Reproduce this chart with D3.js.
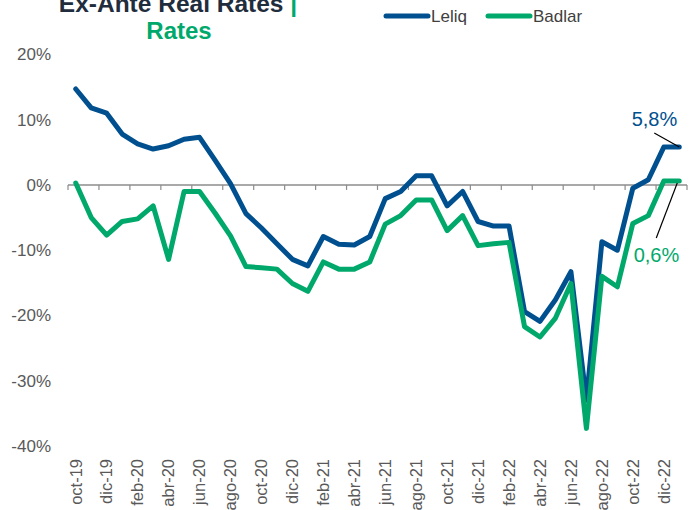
<!DOCTYPE html>
<html>
<head>
<meta charset="utf-8">
<script src="https://cdn.jsdelivr.net/npm/d3@7"></script>
<style>
  body { margin: 0; background: #fff; }
  svg { font-family: "Liberation Sans", Arial, sans-serif; }
</style>
</head>
<body>
<script>
var w = 693;
var h = 510;

// months oct-19 .. ene-23
var mesesNombres = ["ene","feb","mar","abr","may","jun","jul","ago","sep","oct","nov","dic"];
var months = [];
for (var k = 0; k < 40; k++) {
  var m = (9 + k) % 12;
  var yy = 19 + Math.floor((9 + k) / 12);
  months.push(mesesNombres[m] + "-" + yy);
}

var leliq = [14.7, 11.8, 11.0, 7.8, 6.3, 5.5, 6.0, 7.0, 7.3, 3.8,
             0.2, -4.4, -6.6, -9.0, -11.4, -12.4, -7.9, -9.1, -9.2, -7.9,
             -2.1, -1.0, 1.4, 1.4, -3.2, -1.0, -5.6, -6.3, -6.3, -19.4,
             -20.9, -17.6, -13.3, -33.0, -8.7, -10.0, -0.5, 0.8, 5.8, 5.8];

var badlar = [0.3, -5.0, -7.7, -5.6, -5.2, -3.2, -11.4, -1.0, -1.0, -4.3,
              -7.8, -12.5, -12.7, -12.9, -15.1, -16.3, -11.8, -12.9, -12.9, -11.8,
              -6.0, -4.7, -2.3, -2.3, -7.0, -4.7, -9.3, -9.0, -8.8, -21.7,
              -23.3, -20.4, -15.1, -37.3, -14.0, -15.6, -5.9, -4.7, 0.6, 0.6];

var yTicks = [20, 10, 0, -10, -20, -30, -40];

var colors = { leliq: "#00508F", badlar: "#00A96B" };

var svg = d3.select("body").append("svg")
  .attr("width", w)
  .attr("height", h);

var xScale = d3.scaleBand()
  .domain(months)
  .range([68, 687])
  .padding(0);

var yScale = d3.scaleLinear()
  .domain([-40, 20])
  .range([446, 54.4]);

var cx = function(i) { return xScale(months[i]) + xScale.bandwidth() / 2; };

// y labels
svg.selectAll(".ylab")
  .data(yTicks)
  .enter()
  .append("text")
  .attr("class", "ylab")
  .attr("x", 51)
  .attr("y", function(d) { return yScale(d); })
  .attr("dy", "0.35em")
  .attr("text-anchor", "end")
  .attr("font-size", 17)
  .attr("fill", "#595959")
  .text(function(d) { return d + "%"; });

// zero axis line with ticks every two months
var y0 = yScale(0);
svg.append("line")
  .attr("x1", 68).attr("x2", 687)
  .attr("y1", y0).attr("y2", y0)
  .attr("stroke", "#8c8c8c")
  .attr("stroke-width", 1.5);

var tickIdx = [];
for (var t = 0; t <= months.length; t += 2) tickIdx.push(t);
svg.selectAll(".xtick")
  .data(tickIdx)
  .enter()
  .append("line")
  .attr("class", "xtick")
  .attr("x1", function(d) { return d < months.length ? xScale(months[d]) : xScale.range()[1]; })
  .attr("x2", function(d) { return d < months.length ? xScale(months[d]) : xScale.range()[1]; })
  .attr("y1", y0).attr("y2", y0 + 5)
  .attr("stroke", "#8c8c8c")
  .attr("stroke-width", 1.2);

// x labels every two months
var labIdx = d3.range(0, months.length, 2);
svg.selectAll(".xlab")
  .data(labIdx)
  .enter()
  .append("text")
  .attr("class", "xlab")
  .attr("transform", function(d) { return "translate(" + cx(d) + ",459) rotate(-90)"; })
  .attr("dy", "0.35em")
  .attr("text-anchor", "end")
  .attr("font-size", 16.5)
  .attr("fill", "#595959")
  .text(function(d) { return months[d]; });

// lines
var line = d3.line()
  .x(function(d, i) { return cx(i); })
  .y(function(d) { return yScale(d); });

svg.append("path")
  .datum(leliq)
  .attr("d", line)
  .attr("fill", "none")
  .attr("stroke", colors.leliq)
  .attr("stroke-width", 5)
  .attr("stroke-linejoin", "round")
  .attr("stroke-linecap", "round");

svg.append("path")
  .datum(badlar)
  .attr("d", line)
  .attr("fill", "none")
  .attr("stroke", colors.badlar)
  .attr("stroke-width", 5)
  .attr("stroke-linejoin", "round")
  .attr("stroke-linecap", "round");

// end labels
var last = months.length - 1;
var lx = cx(last);
var lyL = yScale(leliq[last]);
var lyB = yScale(badlar[last]);

svg.append("line")
  .attr("x1", lx - 25).attr("y1", lyL - 14)
  .attr("x2", lx).attr("y2", lyL)
  .attr("stroke", "#000").attr("stroke-width", 1.2);
svg.append("text")
  .attr("x", lx - 2).attr("y", lyL - 21)
  .attr("text-anchor", "end")
  .attr("font-size", 20)
  .attr("fill", colors.leliq)
  .text("5,8%");

svg.append("line")
  .attr("x1", lx - 23).attr("y1", lyB + 57)
  .attr("x2", lx - 2).attr("y2", lyB + 2)
  .attr("stroke", "#000").attr("stroke-width", 1.2);
svg.append("text")
  .attr("x", lx).attr("y", lyB + 81)
  .attr("text-anchor", "end")
  .attr("font-size", 20)
  .attr("fill", colors.badlar)
  .text("0,6%");

// title (cut at top)
var title = svg.append("text")
  .attr("x", 178).attr("y", 12)
  .attr("text-anchor", "middle")
  .attr("font-size", 24.5)
  .attr("font-weight", "bold");
title.append("tspan").attr("fill", "#1F2D3D").text("Ex-Ante Real Rates ");
title.append("tspan").attr("fill", colors.badlar).text("|");
svg.append("text")
  .attr("x", 179).attr("y", 39)
  .attr("text-anchor", "middle")
  .attr("font-size", 24)
  .attr("font-weight", "bold")
  .attr("fill", colors.badlar)
  .text("Rates");

// legend
var legend = [{ name: "Leliq", color: colors.leliq, x: 386 },
              { name: "Badlar", color: colors.badlar, x: 488 }];
var lg = svg.selectAll(".lg")
  .data(legend)
  .enter()
  .append("g")
  .attr("class", "lg")
  .attr("transform", function(d) { return "translate(" + d.x + ",16)"; });
lg.append("line")
  .attr("x1", 0).attr("x2", 42)
  .attr("y1", 0).attr("y2", 0)
  .attr("stroke", function(d) { return d.color; })
  .attr("stroke-width", 5)
  .attr("stroke-linecap", "round");
lg.append("text")
  .attr("x", 45)
  .attr("dy", "0.35em")
  .attr("font-size", 17)
  .attr("fill", "#404040")
  .text(function(d) { return d.name; });
</script>
</body>
</html>
